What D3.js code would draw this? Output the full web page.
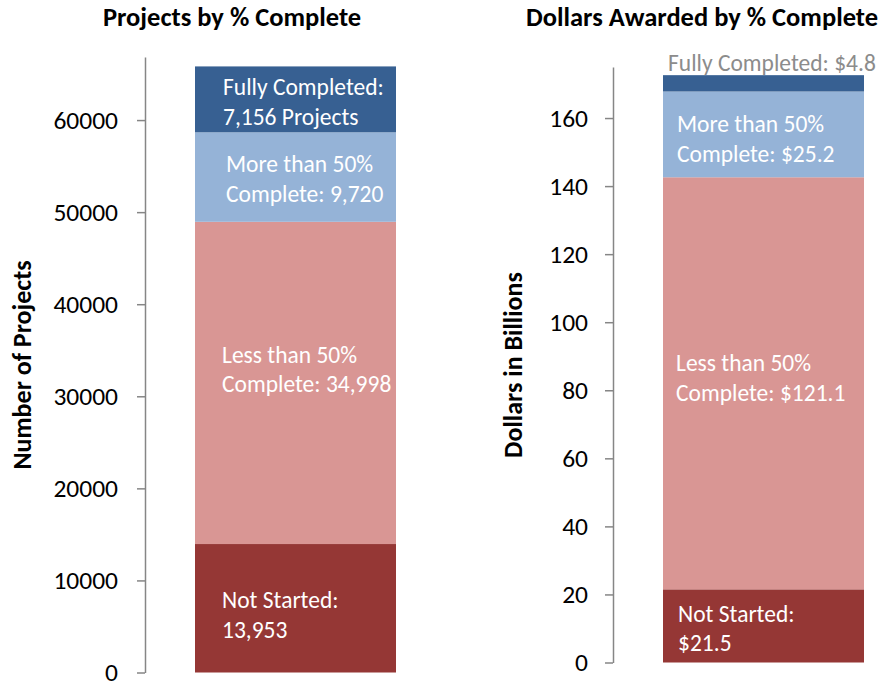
<!DOCTYPE html>
<html>
<head>
<meta charset="utf-8">
<script src="https://d3js.org/d3.v7.min.js"></script>
<style>
  body { margin: 0; background: #fff; }
  svg { font-family: Carlito, Calibri, Lato, sans-serif; }
  .tick text { font-size: 25.5px; fill: #000; }
  .axis path, .axis line { stroke: #868686; stroke-width: 1.5; }
  .title { font-weight: bold; font-size: 26.5px; text-anchor: middle; }
  .ytitle { font-weight: bold; font-size: 26px; text-anchor: middle; }
  .lbl { font-size: 23.5px; fill: #fff; }
</style>
</head>
<body>
<svg width="881" height="683"></svg>
<script>
// segments from bottom to top
var categories = ["Not Started", "Less than 50% Complete", "More than 50% Complete", "Fully Completed"];
var colors = ["#953735", "#D99694", "#95B3D7", "#376092"];

var projectCounts = [13953, 34998, 9720, 7156];
var projectTicks = [0, 10000, 20000, 30000, 40000, 50000, 60000];
var projectLabels = [
  ["Not Started:", "13,953"],
  ["Less than 50%", "Complete: 34,998"],
  ["More than 50%", "Complete: 9,720"],
  ["Fully Completed:", "7,156 Projects"]
];

var dollars = [21.5, 121.1, 25.2, 4.8];
var dollarTicks = [0, 20, 40, 60, 80, 100, 120, 140, 160];
var dollarLabels = [
  ["Not Started:", "$21.5"],
  ["Less than 50%", "Complete: $121.1"],
  ["More than 50%", "Complete: $25.2"],
  ["Fully Completed: $4.8"]
];

var svg = d3.select("svg");

function panel(opt) {
  var y = d3.scaleLinear().domain([0, opt.max]).range([opt.bottom, opt.top]);
  var g = svg.append("g");

  g.append("text").attr("class", "title")
    .attr("x", opt.titleX).attr("y", 26).text(opt.title);

  g.append("text").attr("class", "ytitle")
    .attr("transform", "translate(" + opt.yTitleX + ",365) rotate(-90)")
    .text(opt.yTitle);

  g.append("g").attr("class", "axis")
    .attr("transform", "translate(" + opt.axisX + ",0)")
    .call(d3.axisLeft(y).tickValues(opt.ticks).tickSize(8).tickSizeOuter(0)
      .tickPadding(opt.pad).tickFormat(d3.format("d")))
    .call(function(a) { a.attr("font-family", null).attr("font-size", null); });

  var ends = d3.cumsum(opt.values);
  var segs = opt.values.map(function(v, i) {
    return { v0: ends[i] - v, v1: ends[i], i: i };
  });

  g.selectAll("rect").data(segs).enter().append("rect")
    .attr("x", opt.barX).attr("width", opt.barW)
    .attr("y", function(d) { return y(d.v1); })
    .attr("height", function(d) { return y(d.v0) - y(d.v1); })
    .attr("fill", function(d) { return colors[d.i]; });

  segs.forEach(function(d) {
    var lines = opt.labels[d.i];
    var outside = lines.length === 1;
    var base = outside ? y(d.v1) - 4 : (y(d.v0) + y(d.v1)) / 2 + opt.dy[d.i];
    var t = g.append("text").attr("class", "lbl")
      .attr("x", opt.barX + opt.dx[d.i]).attr("y", base)
      .style("fill", outside ? "#8C8C8C" : "#fff");
    lines.forEach(function(s, k) {
      t.append("tspan").attr("x", opt.barX + opt.dx[d.i]).attr("dy", k ? 29.5 : 0).text(s);
    });
  });
}

panel({
  title: "Projects by % Complete", titleX: 232,
  yTitle: "Number of Projects", yTitleX: 31,
  max: 66850, top: 57, bottom: 672.5,
  axisX: 145, pad: 19, ticks: projectTicks,
  barX: 195, barW: 201,
  values: projectCounts, labels: projectLabels,
  dx: [27, 27, 31, 28], dy: [0, -20, -5, -4]
});

panel({
  title: "Dollars Awarded by % Complete", titleX: 702,
  yTitle: "Dollars in Billions", yTitleX: 522,
  max: 175, top: 67, bottom: 662.5,
  axisX: 613, pad: 17, ticks: dollarTicks,
  barX: 663, barW: 201,
  values: dollars, labels: dollarLabels,
  dx: [15, 13, 14, 5], dy: [-4, -12, -2, 0]
});
</script>
</body>
</html>
